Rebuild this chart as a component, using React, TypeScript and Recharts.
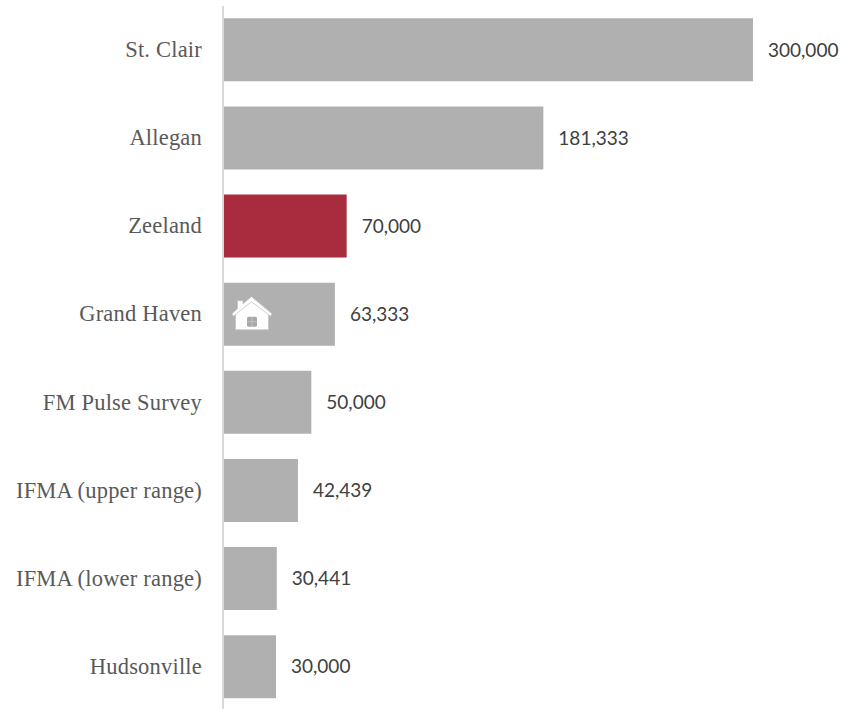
import React from 'react';
import { BarChart, Bar, XAxis, YAxis, Cell, LabelList } from 'recharts';

const categories = ['St. Clair', 'Allegan', 'Zeeland', 'Grand Haven', 'FM Pulse Survey', 'IFMA (upper range)', 'IFMA (lower range)', 'Hudsonville'];
const values = [300000, 181333, 70000, 63333, 50000, 42439, 30441, 30000];
const highlighted = 'Zeeland';
const homeCity = 'Grand Haven';

const data = categories.map((name, i) => ({ name, value: values[i] }));

const formatValue = (value: number) => value.toLocaleString('en-US');

// Small house badge placed at the left end of a bar
const HomeIcon = ({ x, y, height, index }: any) => {
  if (categories[index] !== homeCity) return null;
  const ox = x + 9;
  const oy = y + height / 2 - 17.5;
  return (
    <g transform={`translate(${ox},${oy})`}>
      <path d="M3.5 17 L19.5 3 L36.5 17 L36.5 33 L3.5 33 Z" fill="#ffffff" stroke="#c4c4c4" strokeWidth={0.8} />
      <path
        d="M19.5 0 L40 17 L38.5 19.5 L19.5 5 L1.5 19.5 L0 17 L5.5 12 L5.5 4 L11 4 L11 7 Z"
        fill="#ffffff"
        stroke="#c4c4c4"
        strokeWidth={0.8}
        strokeLinejoin="round"
      />
      <rect x={15} y={20} width={10} height={10} rx={1.5} fill="#a8a8a8" />
      <path d="M20 20 V30 M15 25 H25" stroke="#c8c8c8" strokeWidth={0.8} />
    </g>
  );
};

export default function App() {
  return (
    <div style={{ position: 'absolute', left: 0, top: 0, width: 843, height: 709, overflow: 'hidden', background: '#fff' }}>
      <BarChart
        width={843}
        height={711}
        data={data}
        layout="vertical"
        barCategoryGap="14%"
        margin={{ top: 6, right: 90, bottom: 0, left: 0 }}
      >
        <XAxis type="number" domain={[0, 300000]} hide />
        <YAxis
          type="category"
          dataKey="name"
          width={223}
          interval={0}
          tickLine={false}
          tickMargin={15}
          axisLine={{ stroke: '#d9d9d9', strokeWidth: 2 }}
          tick={{ fill: '#595959', fontSize: 22.5, letterSpacing: 0.2, fontFamily: '"Liberation Serif", serif', dy: -1 }}
        />
        <Bar dataKey="value" fill="#b0b0b0" isAnimationActive={false}>
          {data.map((entry) => (
            <Cell key={entry.name} fill={entry.name === highlighted ? '#a92b3e' : '#b0b0b0'} />
          ))}
          <LabelList
            dataKey="value"
            position="right"
            offset={15}
            formatter={formatValue}
            style={{ fill: '#404040', fontSize: 19, fontFamily: 'Lato, sans-serif' }}
          />
          <LabelList dataKey="value" content={<HomeIcon />} />
        </Bar>
      </BarChart>
    </div>
  );
}
